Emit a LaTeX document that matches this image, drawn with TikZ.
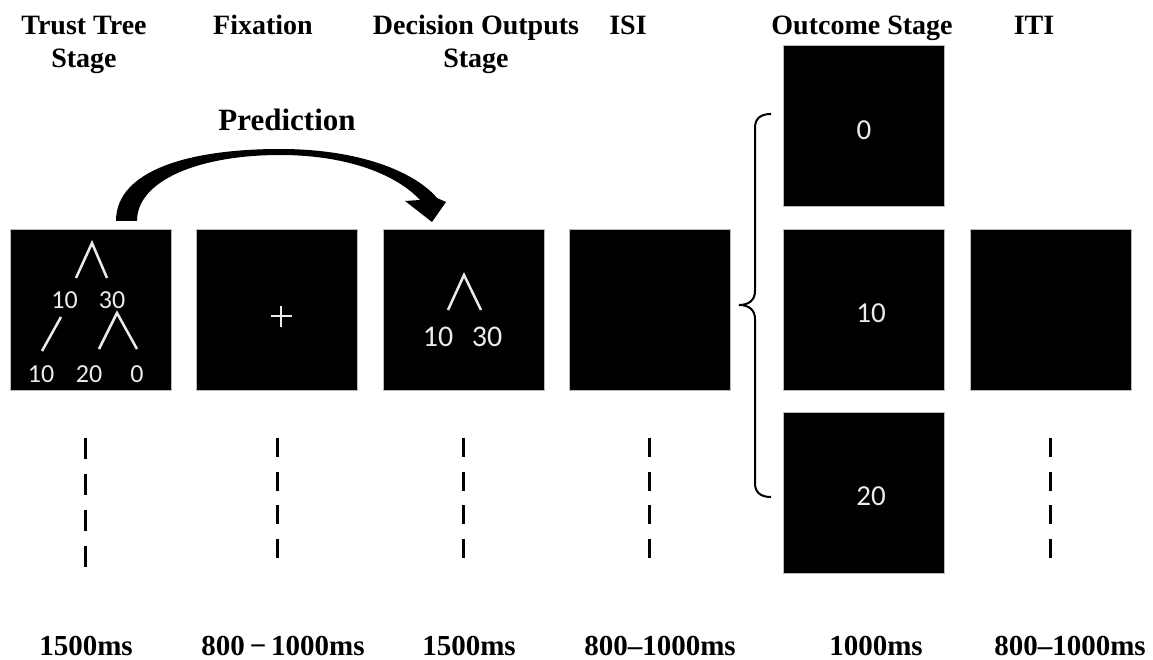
\documentclass[tikz,border=0pt]{standalone}
\usepackage{fontspec}
\setmainfont{Liberation Serif}
\newfontfamily\boxfont{Carlito}
\begin{document}
\begin{tikzpicture}[x=1pt,y=-1pt,
  screen/.style={draw=gray!55, line width=0.8pt, fill=black, minimum width=161pt,
    minimum height=161pt, inner sep=0pt, anchor=north west},
  num/.style={text=white!92!black, font=\boxfont\fontsize{26}{26}\selectfont, inner sep=0pt},
  bignum/.style={num, font=\boxfont\fontsize{30}{30}\selectfont},
  outnum/.style={num, font=\boxfont\fontsize{29}{29}\selectfont},
  treeline/.style={draw=white!92!black, line width=2.5pt},
  timeline/.style={draw=black, line width=3pt},
  lab/.style={font=\bfseries\fontsize{28}{33}\selectfont, align=center, inner sep=0pt, anchor=base},
  bot/.style={font=\bfseries\fontsize{29}{29}\selectfont, inner sep=0pt, anchor=base}]
\useasboundingbox (0,0) rectangle (1153,660);

% screens
\node[screen] (tree) at (10,229) {};
\node[screen] (fix) at (196,229) {};
\node[screen] (dec) at (383,229) {};
\node[screen] (isi) at (569,229) {};
\node[screen] (out0) at (783,45) {};
\node[screen] (out10) at (783,229) {};
\node[screen] (out20) at (783,412) {};
\node[screen] (iti) at (970,229) {};

% trust tree
\draw[treeline] (76,278) -- (92,243) -- (107,278);
\node[num] (a10) at (64.5,300) {10};
\node[num] (a30) at (112,300) {30};
\draw[treeline] (61,317) -- (42,351);
\draw[treeline] (99,349) -- (117,313) -- (137,349);
\node[num] (b10) at (41,374.5) {10};
\node[num] (b20) at (89,374.5) {20};
\node[num] (b0) at (137,374.5) {0};

% fixation cross
\draw[draw=white!92!black, line width=2pt] (270.5,316) -- (291.5,316) (281,305.5) -- (281,326.5);

% decision outputs
\draw[treeline] (448,310) -- (464,275) -- (481,310);
\node[bignum] (d10) at (438,337) {10};
\node[bignum] (d30) at (487,337) {30};

% outcomes
\node[outnum] (o0) at (864,130) {0};
\node[outnum] (o10) at (871,313) {10};
\node[outnum] (o20) at (871,496) {20};

% brace
\draw[line width=2pt] (771,114) .. controls (760,114) and (755,119) .. (755,128)
  -- (755,291) .. controls (755,300) and (749,305) .. (739,305)
  .. controls (749,305) and (755,310) .. (755,319)
  -- (755,483) .. controls (755,492) and (760,497) .. (771,497);

% prediction arrow
\fill (116,221) .. controls (116,170) and (190,149) .. (280,149)
  .. controls (360,149) and (415,172) .. (437,198)
  -- (446,202) -- (432,222) -- (405,201) -- (420,200)
  .. controls (398,176) and (350,155) .. (280,155)
  .. controls (200,155) and (137,180) .. (137,221) -- cycle;
\node[font=\bfseries\fontsize{31}{31}\selectfont, inner sep=0pt, anchor=base] (pred) at (287,131) {Prediction};

% time lines
\draw[timeline, dash pattern=on 21pt off 15pt] (85,438) -- (85,567);
\draw[timeline, dash pattern=on 19pt off 14.5pt] (277,438) -- (277,557.5);
\draw[timeline, dash pattern=on 19pt off 14.5pt] (463,438) -- (463,557.5);
\draw[timeline, dash pattern=on 19pt off 14.5pt] (649,438) -- (649,557.5);
\draw[timeline, dash pattern=on 19pt off 14.5pt] (1050,438) -- (1050,557.5);

% stage labels
\node[lab] (l1) at (84,68) {Trust Tree\\Stage};
\node[lab] (l2) at (263,35) {Fixation};
\node[lab] (l3) at (476,68) {Decision Outputs\\Stage};
\node[lab] (l4) at (628,35) {ISI};
\node[lab] (l5) at (862,35) {Outcome Stage};
\node[lab] (l6) at (1034,35) {ITI};

% durations
\node[bot] (t1) at (86,655) {1500ms};
\node[bot] (t2) at (283,655) {800\,−\,1000ms};
\node[bot] (t3) at (469,655) {1500ms};
\node[bot] (t4) at (660,655) {800–1000ms};
\node[bot] (t5) at (876,655) {1000ms};
\node[bot] (t6) at (1070,655) {800–1000ms};
\end{tikzpicture}
\end{document}
